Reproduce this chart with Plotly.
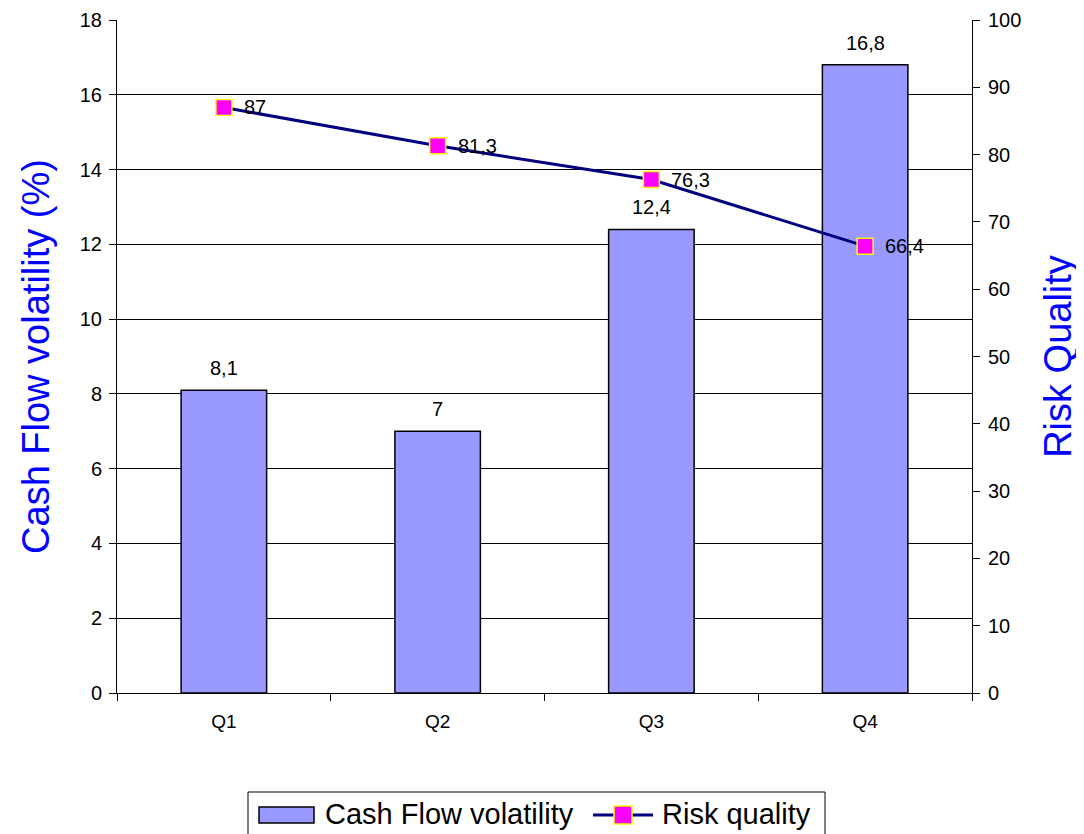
import plotly.graph_objects as go

categories = ["Q1", "Q2", "Q3", "Q4"]
cash_flow_volatility = [8.1, 7.0, 12.4, 16.8]
risk_quality = [87.0, 81.3, 76.3, 66.4]
legend_names = ["Cash Flow volatility", "Risk quality"]

def fmt(v):
    return f"{v:g}".replace(".", ",")

FONT = "Liberation Sans, Arial, sans-serif"
BAR_COLOR = "#9999FF"
LINE_COLOR = "#000080"

# page body adds an 8px offset; compensate so the plot lands where the reference has it
OFF = 8
W, H = 1084, 834
PL, PT, PRt, PB = 117, 20, 972, 693  # plot box in page pixels
L, T = PL - OFF, PT - OFF
PW, PH = PRt - PL, PB - PT
R, B = W - L - PW, H - T - PH

def px(x):
    return (x - PL) / PW

def py(y):
    return (PB - y) / PH

fig = go.Figure()
fig.add_trace(go.Bar(
    x=categories, y=cash_flow_volatility, name=legend_names[0],
    marker=dict(color=BAR_COLOR, line=dict(color="black", width=1.5)),
    width=0.4, showlegend=False,
))
fig.add_trace(go.Scatter(
    x=categories, y=risk_quality, name=legend_names[1], yaxis="y2",
    mode="lines+markers",
    line=dict(color=LINE_COLOR, width=3),
    marker=dict(symbol="square", size=16, color="#FF00FF", line=dict(color="#FFFF00", width=1.5)),
    cliponaxis=False, showlegend=False,
))

annotations = []
for c, v in zip(categories, cash_flow_volatility):
    annotations.append(dict(x=c, y=v, xref="x", yref="y", text=fmt(v), showarrow=False,
                            yshift=22, xanchor="center", yanchor="middle",
                            font=dict(size=20, color="black", family=FONT)))
for c, v in zip(categories, risk_quality):
    annotations.append(dict(x=c, y=v, xref="x", yref="y2", text=fmt(v), showarrow=False,
                            xshift=18, xanchor="left", yanchor="middle",
                            font=dict(size=20, color="black", family=FONT)))

# manual legend
annotations.append(dict(x=px(323), y=py(814), xref="paper", yref="paper", text=legend_names[0],
                        showarrow=False, xanchor="left", yanchor="middle",
                        font=dict(size=29, color="black", family=FONT)))
annotations.append(dict(x=px(660), y=py(814), xref="paper", yref="paper", text=legend_names[1],
                        showarrow=False, xanchor="left", yanchor="middle",
                        font=dict(size=29, color="black", family=FONT)))

shapes = [
    dict(type="rect", xref="paper", yref="paper", x0=px(248), x1=px(825), y0=py(792), y1=py(850),
         line=dict(color="black", width=1), fillcolor="white", layer="below"),
    dict(type="rect", xref="paper", yref="paper", x0=px(259), x1=px(314), y0=py(807), y1=py(823),
         line=dict(color="black", width=1.5), fillcolor=BAR_COLOR),
    dict(type="line", xref="paper", yref="paper", x0=px(593), x1=px(653), y0=py(815), y1=py(815),
         line=dict(color=LINE_COLOR, width=3)),
    dict(type="rect", xref="paper", yref="paper", x0=px(614), x1=px(632), y0=py(806), y1=py(824),
         line=dict(color="#FFFF00", width=1.5), fillcolor="#FF00FF"),
]

fig.update_layout(
    width=W, height=H,
    margin=dict(l=L, r=R, t=T, b=B, autoexpand=False),
    paper_bgcolor="white", plot_bgcolor="white",
    font=dict(family=FONT, color="black", size=20),
    showlegend=False,
    annotations=annotations, shapes=shapes,
    xaxis=dict(showline=True, linecolor="black", linewidth=1, ticks="outside", tickson="boundaries",
               ticklen=7, tickcolor="black", tickfont=dict(size=19), showgrid=False,
               automargin=False, ticklabelstandoff=11),
    yaxis=dict(range=[0, 18], dtick=2, showline=True, linecolor="black", linewidth=1,
               ticks="outside", ticklen=7, tickcolor="black", showgrid=True, gridcolor="black",
               gridwidth=1, zeroline=False, tickfont=dict(size=20), automargin=False,
               ticklabelstandoff=3,
               title=dict(text="Cash Flow volatility (%)", font=dict(size=38, color="#0000FF"), standoff=18)),
    yaxis2=dict(range=[0, 100], dtick=10, overlaying="y", side="right", showline=True,
                linecolor="black", linewidth=1, ticks="outside", ticklen=7, tickcolor="black",
                showgrid=False, zeroline=False, tickfont=dict(size=20), automargin=False,
                ticklabelstandoff=4,
                title=dict(text="Risk Quality", font=dict(size=38, color="#0000FF"), standoff=24)),
)

fig.write_html("out.html")
